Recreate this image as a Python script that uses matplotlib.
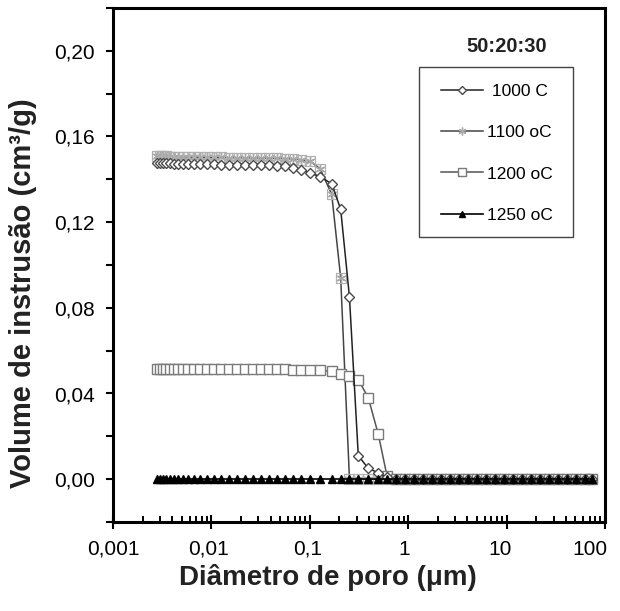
import matplotlib
matplotlib.use("Agg")
import matplotlib.pyplot as plt
from matplotlib.ticker import FixedLocator, NullFormatter, LogLocator
from matplotlib.transforms import ScaledTranslation
from matplotlib.patches import Rectangle

plt.rcParams['font.family'] = ['Liberation Sans', 'DejaVu Sans']

# ---- data ----
diameter = [0.0028, 0.0030, 0.00322, 0.00346, 0.0038, 0.00417, 0.00458, 0.00514,
            0.00578, 0.00666, 0.00766, 0.00902, 0.0106, 0.0125, 0.0151, 0.0182,
            0.0219, 0.0265, 0.0319, 0.0385, 0.0464, 0.0560, 0.0675, 0.0814,
            0.1005, 0.127, 0.167, 0.206, 0.253, 0.311, 0.393, 0.497,
            0.609, 0.752, 0.928, 1.145, 1.414, 1.745, 2.154, 2.66,
            3.28, 4.05, 5.00, 6.18, 7.62, 9.41, 11.6, 14.3,
            17.7, 21.8, 27.0, 33.3, 41.1, 50.7, 62.6, 73.8]

vol_1000 = [0.1475, 0.1475, 0.1474, 0.1474, 0.1474, 0.1473, 0.1473, 0.1472,
            0.1472, 0.1471, 0.1471, 0.1470, 0.1470, 0.1469, 0.1469, 0.1468,
            0.1467, 0.1467, 0.1466, 0.1465, 0.1463, 0.1460, 0.1455, 0.1445,
            0.1430, 0.1412, 0.1380, 0.1260, 0.0850, 0.0110, 0.0050, 0.0030,
            0.0010, 0.0, 0.0, 0.0, 0.0, 0.0, 0.0, 0.0,
            0.0, 0.0, 0.0, 0.0, 0.0, 0.0, 0.0, 0.0,
            0.0, 0.0, 0.0, 0.0, 0.0, 0.0, 0.0, 0.0]

vol_1100 = [0.1508, 0.1508, 0.1507, 0.1507, 0.1506, 0.1506, 0.1505, 0.1505,
            0.1504, 0.1504, 0.1503, 0.1503, 0.1502, 0.1502, 0.1501, 0.1501,
            0.1500, 0.1500, 0.1499, 0.1499, 0.1498, 0.1497, 0.1495, 0.1492,
            0.1485, 0.1450, 0.1330, 0.0940, 0.0, 0.0, 0.0, 0.0,
            0.0, 0.0, 0.0, 0.0, 0.0, 0.0, 0.0, 0.0,
            0.0, 0.0, 0.0, 0.0, 0.0, 0.0, 0.0, 0.0,
            0.0, 0.0, 0.0, 0.0, 0.0, 0.0, 0.0, 0.0]

vol_1200 = [0.0514, 0.0514, 0.0514, 0.0514, 0.0514, 0.0514, 0.0514, 0.0514,
            0.0514, 0.0514, 0.0514, 0.0513, 0.0513, 0.0513, 0.0513, 0.0513,
            0.0513, 0.0513, 0.0513, 0.0513, 0.0513, 0.0513, 0.0512, 0.0512,
            0.0511, 0.0509, 0.0503, 0.0493, 0.0484, 0.0465, 0.0380, 0.0209,
            0.0015, 0.0, 0.0, 0.0, 0.0, 0.0, 0.0, 0.0,
            0.0, 0.0, 0.0, 0.0, 0.0, 0.0, 0.0, 0.0,
            0.0, 0.0, 0.0, 0.0, 0.0, 0.0, 0.0, 0.0]

vol_1250 = [0.0, 0.0, 0.0, 0.0, 0.0, 0.0, 0.0, 0.0,
            0.0, 0.0, 0.0, 0.0, 0.0, 0.0, 0.0, 0.0,
            0.0, 0.0, 0.0, 0.0, 0.0, 0.0, 0.0, 0.0,
            0.0, 0.0, 0.0, 0.0, 0.0, 0.0, 0.0, 0.0,
            0.0, 0.0, 0.0, 0.0, 0.0, 0.0, 0.0, 0.0,
            0.0, 0.0, 0.0, 0.0, 0.0, 0.0, 0.0, 0.0,
            0.0, 0.0, 0.0, 0.0, 0.0, 0.0, 0.0, 0.0]

series_labels = [' 1000 C', '1100 oC', '1200 oC', '1250 oC']
x_ticks = [0.001, 0.01, 0.1, 1, 10, 100]
x_ticklabels = ['0,001', '0,01', '0,1', '1', '10', '100']
y_ticks = [0.00, 0.04, 0.08, 0.12, 0.16, 0.20]
y_ticklabels = ['0,00', '0,04', '0,08', '0,12', '0,16', '0,20']
y_minor = [-0.02, 0.02, 0.06, 0.10, 0.14, 0.18, 0.22]

# ---- figure ----
W, H = 620, 611
fig = plt.figure(figsize=(W / 100, H / 100), dpi=100)
ax = fig.add_axes([113 / W, (H - 522) / H, 492 / W, 514 / H])

ax.plot(diameter, vol_1000, color='#222222', lw=1.1, marker='D', ms=5,
        mfc='white', mec='#4a4a4a', mew=1.0, label=series_labels[0], zorder=4)
ax.plot(diameter, vol_1100, color='#444444', lw=1.1, marker=(6, 2, 0), ms=7,
        mec='#a8a8a8', mew=1.0, label=series_labels[1], zorder=3)
ax.plot(diameter, vol_1100, ls='none', marker='s', ms=6.5, mfc='none',
        mec='#b0b0b0', mew=0.9, zorder=3)
ax.plot(diameter, vol_1200, color='#555555', lw=1.1, marker='s', ms=7,
        mfc='white', mec='#7a7a7a', mew=1.0, label=series_labels[2], zorder=3.5)
ax.plot(diameter, vol_1250, color='black', lw=1.2, marker='^', ms=6,
        mfc='black', mec='black', label=series_labels[3], zorder=5)

ax.set_xscale('log')
ax.set_xlim(0.001, 100)
ax.set_ylim(-0.02, 0.22)

ax.xaxis.set_major_locator(FixedLocator(x_ticks))
ax.set_xticklabels(x_ticklabels)
ax.xaxis.set_minor_locator(LogLocator(base=10, subs=(2, 3, 4, 5, 6, 7, 8, 9), numticks=50))
ax.xaxis.set_minor_formatter(NullFormatter())
ax.yaxis.set_major_locator(FixedLocator(y_ticks))
ax.set_yticklabels(y_ticklabels)
ax.yaxis.set_minor_locator(FixedLocator(y_minor))

ax.tick_params(axis='x', which='major', direction='inout', length=9.5, width=1.5,
               labelsize=15, pad=8, top=False)
ax.tick_params(axis='x', which='minor', direction='in', length=4, width=1.4, top=False)
ax.tick_params(axis='y', which='both', direction='out', length=5, width=1.5,
               labelsize=15, pad=8, right=False)

# slight horizontal shifts of x tick labels as in the reference (pixels)
label_shift_px = [0, -3, -2, -4, -7, -15]
for lab, dx in zip(ax.get_xticklabels(), label_shift_px):
    lab.set_transform(lab.get_transform() + ScaledTranslation(dx / 100, 0, fig.dpi_scale_trans))

for sp in ax.spines.values():
    sp.set_linewidth(2.2)

# legend frame (drawn separately) and frameless legend inside
ax.add_patch(Rectangle((306 / 492, (522 - 237) / 514), 154 / 492, 170 / 514,
                       transform=ax.transAxes, facecolor='white', edgecolor='#444444',
                       lw=1.0, zorder=6))
leg = ax.legend(loc='upper left', bbox_to_anchor=((441 - 113) / 492, (522 - 84) / 514),
                borderaxespad=0, borderpad=0, frameon=False,
                handlelength=2.4, handletextpad=0.25, labelspacing=1.5,
                markerscale=0.8, prop={'size': 12.5})
leg.set_zorder(7)

fig.text(507 / W, 1 - 52 / H, '50:20:30', ha='center', va='baseline',
         fontsize=14.5, fontweight='bold', color='#222222')
fig.text(328 / W, 1 - 585 / H, 'Diâmetro de poro (μm)', ha='center', va='baseline',
         fontsize=20, fontweight='bold', color='#222222')
fig.text(31 / W, 1 - 293 / H, 'Volume de instrusão (cm³/g)', rotation=90,
         rotation_mode='anchor', ha='center', va='baseline',
         fontsize=21, fontweight='bold', color='#222222')

fig.savefig('out.png', dpi=100)
